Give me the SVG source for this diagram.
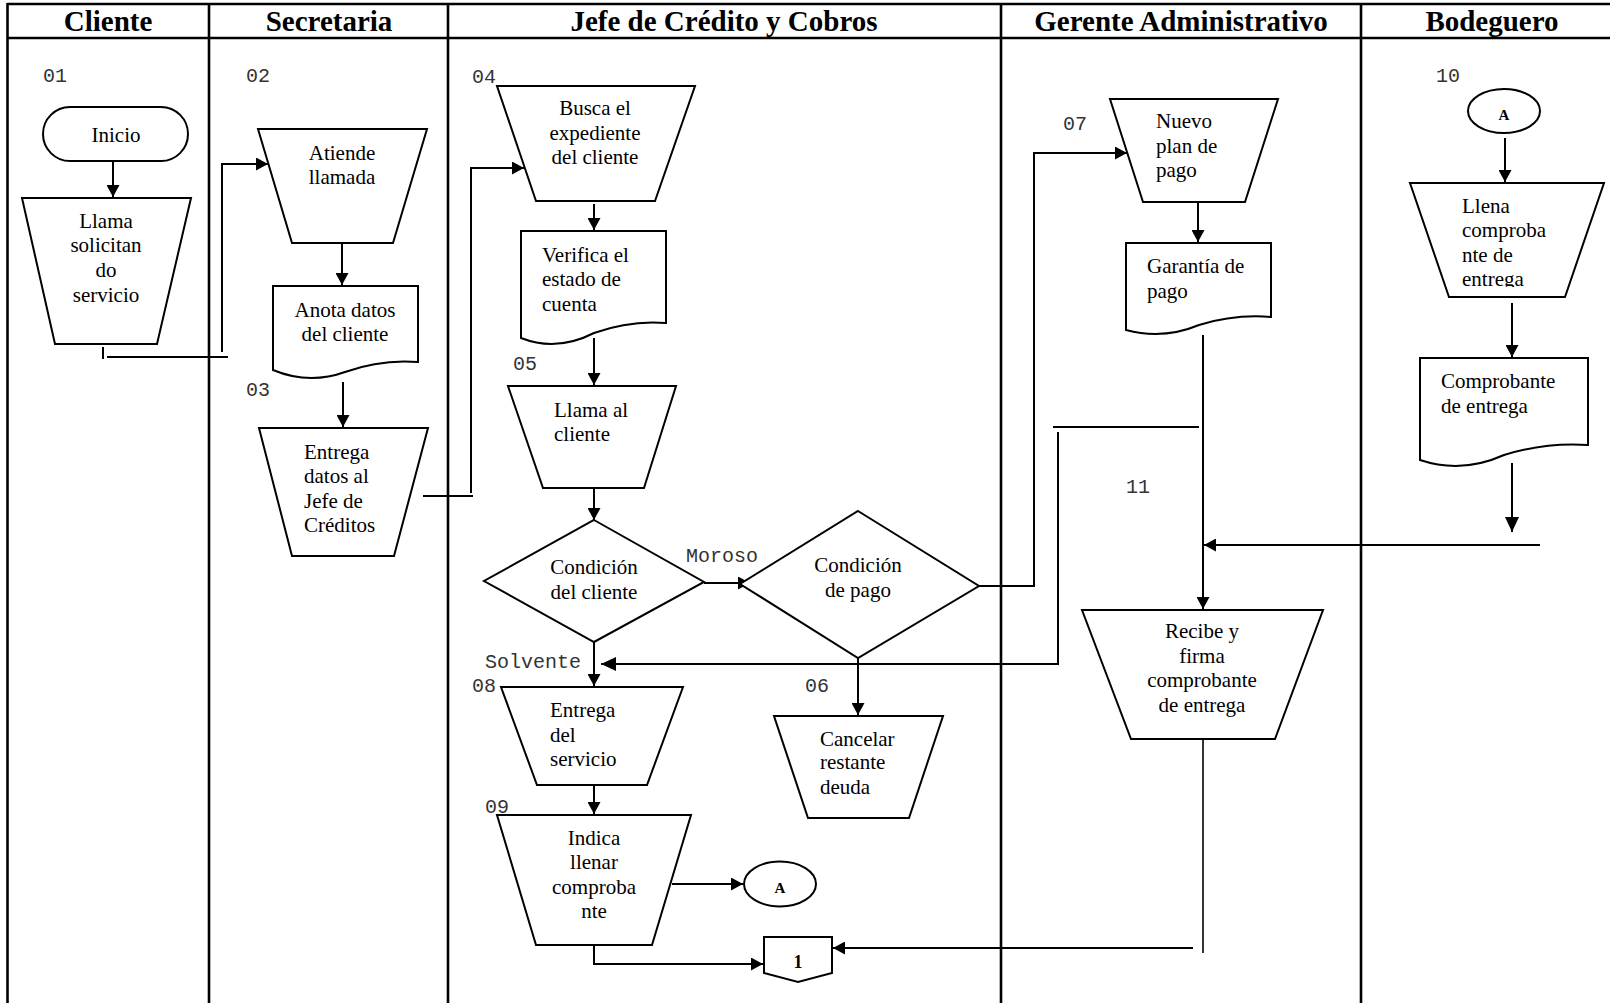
<svg xmlns="http://www.w3.org/2000/svg" width="1610" height="1003" viewBox="0 0 1610 1003">
  <style>
    .lane { stroke: #000; stroke-width: 2.6; fill: none; }
    .shape { stroke: #000; stroke-width: 2; fill: #fff; }
    .conn { stroke: #000; stroke-width: 2; fill: none; }
    .thin { stroke: #000; stroke-width: 1.6; fill: none; }
    .hdr { font-family: "Liberation Serif", "Times New Roman", serif; font-weight: bold; font-size: 29px; fill: #000; text-anchor: middle; }
    .t { font-family: "Liberation Serif", "Times New Roman", serif; font-size: 21px; fill: #000; }
    .c { text-anchor: middle; }
    .num { font-family: "Liberation Mono", "Courier New", monospace; font-size: 20px; fill: #333; }
    .lbl { font-family: "Liberation Serif", "Times New Roman", serif; font-weight: bold; fill: #000; text-anchor: middle; }
  </style>
  <defs>
    <marker id="arrow" viewBox="0 0 12 13" refX="12" refY="6.5" markerWidth="12" markerHeight="13" markerUnits="userSpaceOnUse" orient="auto">
      <path d="M0,0 L12,6.5 L0,13 Z" fill="#000"/>
    </marker>
    <marker id="arrow-lg" viewBox="0 0 15 14" refX="15" refY="7" markerWidth="15" markerHeight="14" markerUnits="userSpaceOnUse" orient="auto">
      <path d="M0,0 L15,7 L0,14 Z" fill="#000"/>
    </marker>
    <clipPath id="clip-llena">
      <rect x="1400" y="183" width="210" height="104"/>
    </clipPath>
  </defs>

  <rect x="0" y="0" width="1610" height="1003" fill="#fff"/>

  <!-- swimlane frame -->
  <g id="lanes">
    <line class="lane" x1="7" y1="4" x2="1610" y2="4"/>
    <line class="lane" x1="7" y1="38" x2="1610" y2="38"/>
    <line class="lane" x1="7.5" y1="3" x2="7.5" y2="1003"/>
    <line class="lane" x1="209" y1="4" x2="209" y2="1003"/>
    <line class="lane" x1="448" y1="4" x2="448" y2="1003"/>
    <line class="lane" x1="1001" y1="4" x2="1001" y2="1003"/>
    <line class="lane" x1="1361" y1="4" x2="1361" y2="1003"/>
    <text class="hdr" x="108" y="31">Cliente</text>
    <text class="hdr" x="329" y="31">Secretaria</text>
    <text class="hdr" x="724" y="31">Jefe de Crédito y Cobros</text>
    <text class="hdr" x="1181" y="31">Gerente Administrativo</text>
    <text class="hdr" x="1492" y="31">Bodeguero</text>
  </g>

  <!-- step numbers and branch labels -->
  <g id="labels">
    <text class="num" x="43" y="82">01</text>
    <text class="num" x="246" y="82">02</text>
    <text class="num" x="246" y="396">03</text>
    <text class="num" x="472" y="83">04</text>
    <text class="num" x="513" y="370">05</text>
    <text class="num" x="805" y="692">06</text>
    <text class="num" x="1063" y="130">07</text>
    <text class="num" x="472" y="692">08</text>
    <text class="num" x="485" y="813">09</text>
    <text class="num" x="1436" y="82">10</text>
    <text class="num" x="1126" y="493">11</text>
    <text class="num" x="686" y="562">Moroso</text>
    <text class="num" x="485" y="668">Solvente</text>
  </g>

  <!-- connectors -->
  <g id="connectors">
    <line class="conn" x1="113" y1="161" x2="113" y2="197" marker-end="url(#arrow)"/>
    <line class="conn" x1="103" y1="347" x2="103" y2="359"/>
    <line class="conn" x1="107" y1="357" x2="228" y2="357"/>
    <path class="conn" d="M222,352 V164 H268" marker-end="url(#arrow)"/>
    <line class="conn" x1="342" y1="243" x2="342" y2="285" marker-end="url(#arrow)"/>
    <line class="conn" x1="343" y1="382" x2="343" y2="427" marker-end="url(#arrow)"/>
    <line class="conn" x1="423" y1="496" x2="473" y2="496"/>
    <path class="conn" d="M471,493 V168 H524" marker-end="url(#arrow)"/>
    <line class="conn" x1="594" y1="204" x2="594" y2="230" marker-end="url(#arrow)"/>
    <line class="conn" x1="594" y1="338" x2="594" y2="385" marker-end="url(#arrow)"/>
    <line class="conn" x1="594" y1="488" x2="594" y2="520" marker-end="url(#arrow)"/>
    <line class="conn" x1="704" y1="583" x2="750" y2="583" marker-end="url(#arrow)"/>
    <path class="conn" d="M979,586 H1034 V153 H1127" marker-end="url(#arrow)"/>
    <line class="conn" x1="1198" y1="202" x2="1198" y2="242" marker-end="url(#arrow)"/>
    <line class="conn" x1="1203" y1="335" x2="1203" y2="609" marker-end="url(#arrow)"/>
    <line class="conn" x1="1505" y1="138" x2="1505" y2="182" marker-end="url(#arrow)"/>
    <line class="conn" x1="1512" y1="303" x2="1512" y2="357" marker-end="url(#arrow)"/>
    <line class="conn" x1="1512" y1="463" x2="1512" y2="532" marker-end="url(#arrow-lg)"/>
    <line class="conn" x1="1540" y1="545" x2="1204" y2="545" marker-end="url(#arrow)"/>
    <line class="conn" x1="1053" y1="427" x2="1199" y2="427"/>
    <path class="conn" d="M1058,432 V664 H601" marker-end="url(#arrow-lg)"/>
    <line class="conn" x1="594" y1="642" x2="594" y2="686" marker-end="url(#arrow)"/>
    <line class="conn" x1="858" y1="658" x2="858" y2="715" marker-end="url(#arrow)"/>
    <line class="conn" x1="594" y1="785" x2="594" y2="814" marker-end="url(#arrow)"/>
    <line class="conn" x1="672" y1="884" x2="743" y2="884" marker-end="url(#arrow)"/>
    <path class="conn" d="M594,945 V964 H763" marker-end="url(#arrow)"/>
    <line class="thin" x1="1203" y1="725" x2="1203" y2="953"/>
    <line class="conn" x1="1193" y1="948" x2="833" y2="948" marker-end="url(#arrow)"/>
  </g>

  <!-- Cliente -->
  <g id="n01-inicio">
    <rect class="shape" x="43" y="107" width="145" height="54" rx="27" ry="27"/>
    <text class="t c" x="116" y="142">Inicio</text>
  </g>
  <g id="n01-llama">
    <polygon class="shape" points="22,198 191,198 157,344 55,344"/>
    <text class="t c" x="106" y="228">Llama</text>
    <text class="t c" x="106" y="252">solicitan</text>
    <text class="t c" x="106" y="277">do</text>
    <text class="t c" x="106" y="302">servicio</text>
  </g>

  <!-- Secretaria -->
  <g id="n02-atiende">
    <polygon class="shape" points="258,129 427,129 393,243 292,243"/>
    <text class="t c" x="342" y="160">Atiende</text>
    <text class="t c" x="342" y="184">llamada</text>
  </g>
  <g id="n02-anota">
    <path class="shape" d="M273,286 H418 V362 Q381,359 345,372 Q309,385 273,370 Z"/>
    <text class="t c" x="345" y="317">Anota datos</text>
    <text class="t c" x="345" y="341">del cliente</text>
  </g>
  <g id="n03-entrega">
    <polygon class="shape" points="259,428 428,428 394,556 292,556"/>
    <text class="t" x="304" y="459">Entrega</text>
    <text class="t" x="304" y="483">datos al</text>
    <text class="t" x="304" y="508">Jefe de</text>
    <text class="t" x="304" y="532">Créditos</text>
  </g>

  <!-- Jefe de Crédito y Cobros -->
  <g id="n04-busca">
    <polygon class="shape" points="497,86 695,86 655,201 536,201"/>
    <text class="t c" x="595" y="115">Busca el</text>
    <text class="t c" x="595" y="140">expediente</text>
    <text class="t c" x="595" y="164">del cliente</text>
  </g>
  <g id="n04-verifica">
    <path class="shape" d="M521,231 H666 V323 Q630,320 594,333 Q557,352 521,338 Z"/>
    <text class="t" x="542" y="262">Verifica el</text>
    <text class="t" x="542" y="286">estado de</text>
    <text class="t" x="542" y="311">cuenta</text>
  </g>
  <g id="n05-llama">
    <polygon class="shape" points="508,386 676,386 644,488 543,488"/>
    <text class="t" x="554" y="417">Llama al</text>
    <text class="t" x="554" y="441">cliente</text>
  </g>
  <g id="d-condicion-cliente">
    <polygon class="shape" points="594,520 704,582 594,642 484,581"/>
    <text class="t c" x="594" y="574">Condición</text>
    <text class="t c" x="594" y="599">del cliente</text>
  </g>
  <g id="d-condicion-pago">
    <polygon class="shape" points="858,511 979,586 858,658 740,584"/>
    <text class="t c" x="858" y="572">Condición</text>
    <text class="t c" x="858" y="597">de pago</text>
  </g>
  <g id="n06-cancelar">
    <polygon class="shape" points="774,716 943,716 909,818 808,818"/>
    <text class="t" x="820" y="746">Cancelar</text>
    <text class="t" x="820" y="769">restante</text>
    <text class="t" x="820" y="794">deuda</text>
  </g>
  <g id="n08-entrega">
    <polygon class="shape" points="501,687 683,687 647,785 537,785"/>
    <text class="t" x="550" y="717">Entrega</text>
    <text class="t" x="550" y="742">del</text>
    <text class="t" x="550" y="766">servicio</text>
  </g>
  <g id="n09-indica">
    <polygon class="shape" points="497,815 691,815 652,945 536,945"/>
    <text class="t c" x="594" y="845">Indica</text>
    <text class="t c" x="594" y="869">llenar</text>
    <text class="t c" x="594" y="894">comproba</text>
    <text class="t c" x="594" y="918">nte</text>
  </g>
  <g id="conn-a-out">
    <ellipse class="shape" cx="780" cy="884" rx="36" ry="22.5"/>
    <text class="lbl" x="780" y="893" font-size="15">A</text>
  </g>
  <g id="page-1">
    <polygon class="shape" points="764,937 832,937 832,973 798,982 764,973"/>
    <text class="lbl" x="798" y="968" font-size="18">1</text>
  </g>

  <!-- Gerente Administrativo -->
  <g id="n07-nuevo">
    <polygon class="shape" points="1110,99 1278,99 1245,202 1143,202"/>
    <text class="t" x="1156" y="128">Nuevo</text>
    <text class="t" x="1156" y="153">plan de</text>
    <text class="t" x="1156" y="177">pago</text>
  </g>
  <g id="n07-garantia">
    <path class="shape" d="M1126,243 H1271 V317 Q1235,314 1199,325 Q1163,340 1126,330 Z"/>
    <text class="t" x="1147" y="273">Garantía de</text>
    <text class="t" x="1147" y="298">pago</text>
  </g>
  <g id="n11-recibe">
    <polygon class="shape" points="1082,610 1323,610 1275,739 1131,739"/>
    <text class="t c" x="1202" y="638">Recibe y</text>
    <text class="t c" x="1202" y="663">firma</text>
    <text class="t c" x="1202" y="687">comprobante</text>
    <text class="t c" x="1202" y="712">de entrega</text>
  </g>

  <!-- Bodeguero -->
  <g id="conn-a-in">
    <ellipse class="shape" cx="1504" cy="111" rx="36" ry="22"/>
    <text class="lbl" x="1504" y="120" font-size="15">A</text>
  </g>
  <g id="n10-llena">
    <polygon class="shape" points="1410,183 1604,183 1565,297 1449,297"/>
    <g clip-path="url(#clip-llena)">
      <text class="t" x="1462" y="213">Llena</text>
      <text class="t" x="1462" y="237">comproba</text>
      <text class="t" x="1462" y="262">nte de</text>
      <text class="t" x="1462" y="286">entrega</text>
    </g>
  </g>
  <g id="n10-comprobante">
    <path class="shape" d="M1420,358 H1588 V445 Q1546,442 1504,455 Q1462,474 1420,460 Z"/>
    <text class="t" x="1441" y="388">Comprobante</text>
    <text class="t" x="1441" y="413">de entrega</text>
  </g>
</svg>
